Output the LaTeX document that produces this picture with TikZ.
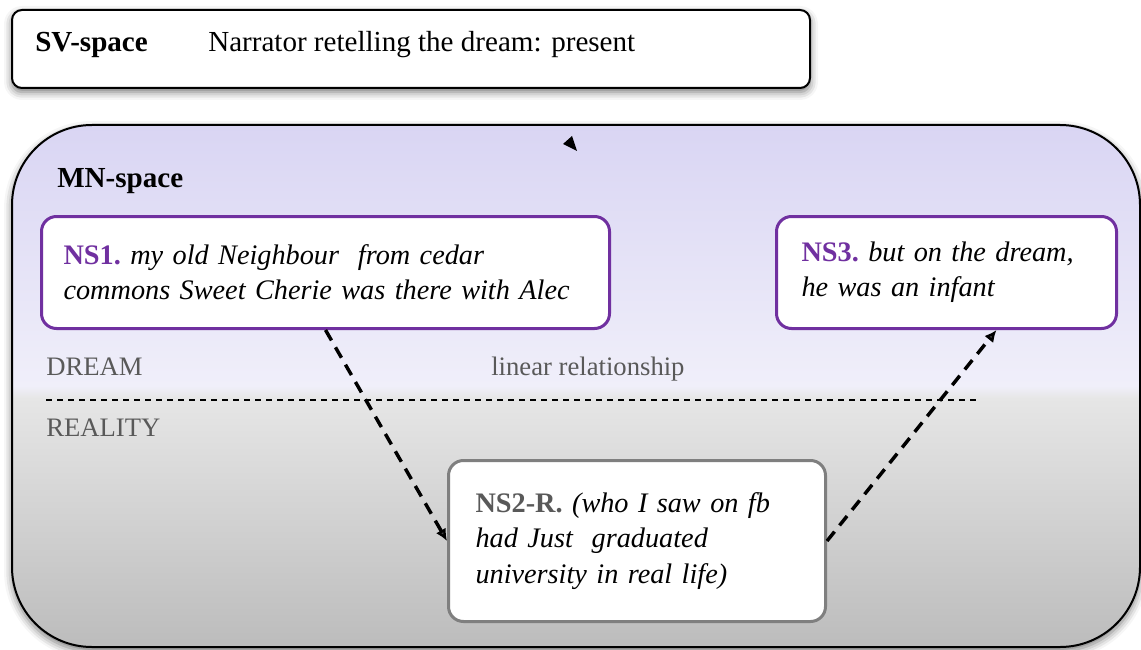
\documentclass[tikz,border=0pt]{standalone}
\usepackage{fontspec}
\setmainfont{Liberation Serif}
\usetikzlibrary{arrows.meta}
\usetikzlibrary{calc}
\usetikzlibrary{shadows.blur}
\definecolor{nspurple}{RGB}{112,48,160}
\definecolor{nsgray}{RGB}{127,127,127}
\definecolor{txtgray}{RGB}{89,89,89}
\definecolor{mnlavtop}{RGB}{217,213,243}
\definecolor{mnlavbot}{RGB}{240,239,250}
\definecolor{mngraytop}{RGB}{230,230,230}
\definecolor{mngraybot}{RGB}{188,188,188}

\begin{document}
\begin{tikzpicture}[x=0.75pt,y=0.75pt,yscale=-1,xscale=1,
  softshadow/.style={blur shadow={shadow xshift=0pt,shadow yshift=-3pt,shadow blur radius=6pt,shadow opacity=55}},
  bigtext/.style={font=\fontsize{21.8}{27}\selectfont},
  nstext/.style={font=\fontsize{21.2}{26.5}\selectfont},
  sidetext/.style={font=\fontsize{20}{24}\selectfont,text=txtgray,inner sep=0pt},
  nsbox/.style={draw=nspurple,line width=2.25pt,fill=white,rounded corners=11.25pt,align=left,nstext,anchor=north west,minimum height=84pt},
  dasharrow/.style={line width=2.6pt,dash pattern=on 9pt off 6pt,-{Latex[length=9pt,width=8.5pt]}}]
\useasboundingbox (0,0) rectangle (1141,649);

%Shape: MN-space box
\path [softshadow,fill=white,rounded corners=60pt] (12,125) rectangle (1140,647);
\begin{scope}
\clip [rounded corners=60pt] (12,125) rectangle (1140,647);
\shade [top color=mnlavtop,bottom color=mnlavbot] (12,125) rectangle (1140,386);
\shade [top color=mnlavbot,bottom color=mngraytop] (12,386) rectangle (1140,398);
\shade [top color=mngraytop,bottom color=mngraybot] (12,398) rectangle (1140,647);
\end{scope}
\draw [line width=1.5pt,rounded corners=60pt] (12,125) rectangle (1140,647);
%Shape: stray tip
\fill (563,144) -- (572,136) -- (577,151) -- cycle;

%Shape: SV-space box
\node (svbox) [softshadow,draw,line width=1.5pt,fill=white,rounded corners=7.5pt,minimum width=598.5pt,minimum height=58.5pt] at (411,49) {};
% Text Node
\node (svlabel) [anchor=base west,inner sep=0pt,bigtext] at (35,52) {\textbf{SV-space}};
% Text Node
\node (svtext) [anchor=base west,inner sep=0pt,bigtext] at (208,52) {Narrator retelling the dream: present};
% Text Node
\node (mnlabel) [anchor=base west,inner sep=0pt,bigtext] at (57,187) {\textbf{MN-space}};

% Text Node
\node (dream) [sidetext,anchor=base west] at (46,375) {DREAM};
% Text Node
\node (reality) [sidetext,anchor=base west] at (46,436) {REALITY};
% Text Node
\node (linrel) [sidetext,anchor=base west] at (491,375) {linear relationship};
%Straight Lines
\coordinate (dl) at (46,400);
\coordinate (dr) at (980,400);
\draw [line width=0.9pt,dash pattern=on 4.5pt off 3.75pt] (dl) -- (dr);

%Shape: narrative spaces
\node (ns1) [nsbox,minimum width=426pt,inner xsep=16.5pt,text width=393pt] at (40,215)
  {\textcolor{nspurple}{\textbf{NS1.}}\ \textit{my old Neighbour\ \ from cedar}\\
   \textit{commons Sweet Cherie was there with Alec}};
\node (ns3) [nsbox,minimum width=255pt,inner xsep=18.75pt,text width=217.5pt] at (775,215)
  {\textcolor{nspurple}{\textbf{NS3.}}\ \textit{but on the dream,}\\
   \textit{he was an infant}};
\node (ns2) [nsbox,draw=nsgray,minimum width=282.75pt,minimum height=120.75pt,inner xsep=20.25pt,text width=242.25pt] at (447,459)
  {\textcolor{txtgray}{\textbf{NS2-R.}}\ \textit{(who I saw on fb}\\
   \textit{had Just\ \ graduated}\\
   \textit{university in real life)}};

%Straight Lines
\draw [dasharrow] (ns1.south) -- (ns2.west);
\draw [dasharrow] (ns2.east) -- ($(ns3.south)+(50,0)$);

\end{tikzpicture}
\end{document}
